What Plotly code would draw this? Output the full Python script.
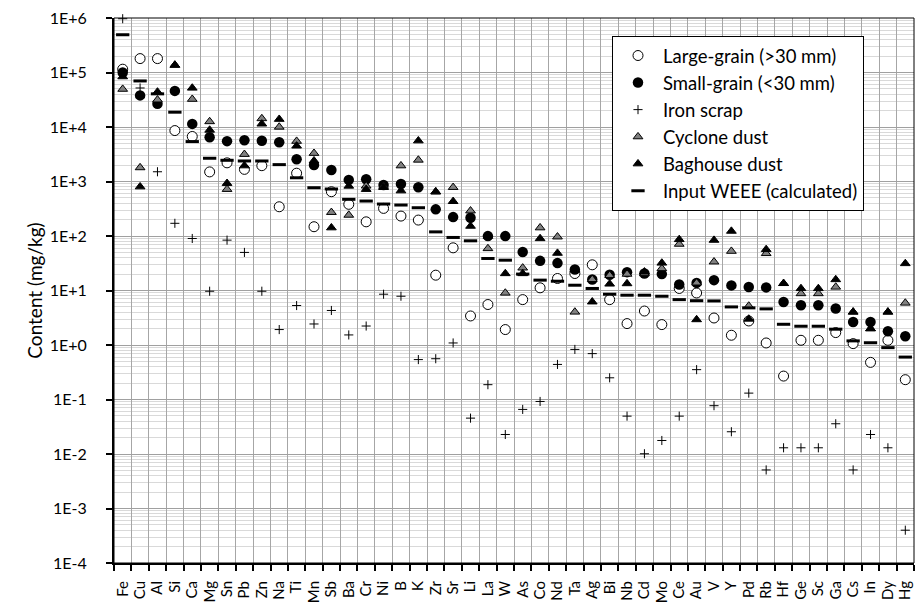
import plotly.graph_objects as go

# Element content of WEEE processing fractions (mg/kg)
elements = ["Fe", "Cu", "Al", "Si", "Ca", "Mg", "Sn", "Pb", "Zn", "Na", "Ti", "Mn",
            "Sb", "Ba", "Cr", "Ni", "B", "K", "Zr", "Sr", "Li", "La", "W", "As",
            "Co", "Nd", "Ta", "Ag", "Bi", "Nb", "Cd", "Mo", "Ce", "Au", "V", "Y",
            "Pd", "Rb", "Hf", "Ge", "Sc", "Ga", "Cs", "In", "Dy", "Hg"]

large_grain = [1.15e5, 1.8e5, 1.8e5, 8.6e3, 6.7e3, 1.5e3, 2.2e3, 1.67e3, 1.95e3, 344, 1.42e3, 148,
               650, 381, 182, 321, 232, 196, 19.1, 60.7, 3.41, 5.53, 1.92, 6.8,
               11.2, 16.6, 20.5, 29.6, 6.8, 2.47, 4.2, 2.37, 10.9, 9.0, 3.13, 1.51,
               2.76, 1.09, 0.269, 1.22, 1.22, 1.69, 1.06, 0.48, 1.22, 0.231]

small_grain = [1.0e5, 3.8e4, 2.66e4, 4.6e4, 1.14e4, 6.5e3, 5.5e3, 5.7e3, 5.6e3, 5.26e3, 2.56e3, 2.0e3,
               1.63e3, 1.07e3, 1.1e3, 862, 900, 782, 308, 222, 216, 99.6, 99.6, 51,
               35, 31.8, 24.3, 15.9, 19.4, 21.7, 20.5, 20, 12.9, 13.8, 15.5, 12.4,
               11.6, 11.4, 6.17, 5.37, 5.37, 4.67, 2.65, 2.65, 1.79, 1.45]

iron_scrap = [9.7e5, 5.2e4, 1.51e3, 171, 90, 9.7, 84, 50, 9.7, 1.92, 5.3, 2.43,
              4.3, 1.53, 2.23, 8.55, 7.85, 0.54, 0.56, 1.09, 0.0455, 0.187, 0.0228, 0.0658,
              0.092, 0.44, 0.83, 0.695, 0.25, 0.0495, 0.0101, 0.0177, 0.0495, 0.353, 0.077, 0.0256,
              0.131, 0.0051, 0.013, 0.013, 0.013, 0.0359, 0.0051, 0.0228, 0.013, 0.0004]

cyclone_dust = [4.95e4, 1.8e3, 3.15e4, 1.37e5, 3.24e4, 1.26e4, 720, 3.16e3, 1.43e4, 1.0e4, 5.5e3, 3.3e3,
                272, 242, 830, 820, 1.95e3, 2.48e3, 649, 782, 290, 59, 9.0, 26,
                142, 96.6, 4.04, 16, 19, 20, 20.5, 25.3, 71, 13.8, 33.6, 52.7,
                5.2, 47.9, 13.5, 8.8, 8.8, 11.6, 4.04, 2.0, 4.04, 5.9]

baghouse_dust = [8.4e4, 802, 4.4e4, 1.37e5, 5.2e4, 8.8e3, 927, 1.95e3, 1.14e4, 1.39e4, 4.5e3, 2.4e3,
                 142, 826, 720, 780, 678, 5.6e3, 649, 432, 152, 99.6, 20.5, 20.5,
                 90, 48.5, 24.3, 6.2, 13.2, 13.4, 22, 32, 86.5, 2.93, 84, 123,
                 3.0, 56.7, 13.5, 10.9, 10.9, 15.9, 4.04, 2.0, 4.04, 31.3]

input_weee = [4.93e5, 7.0e4, 4.06e4, 1.87e4, 5.4e3, 2.67e3, 2.45e3, 2.38e3, 2.38e3, 2.04e3, 1.17e3, 769,
              728, 471, 438, 386, 370, 330, 119, 94, 81.6, 38.7, 36, 20,
              15.5, 14.8, 12.5, 10.9, 8.55, 8.2, 8.2, 7.85, 6.8, 6.5, 6.44, 5.0,
              4.8, 4.6, 2.4, 2.21, 2.21, 1.95, 1.19, 1.1, 0.895, 0.6]

y_tick_values = [1e-4, 1e-3, 1e-2, 1e-1, 1e0, 1e1, 1e2, 1e3, 1e4, 1e5, 1e6]
y_tick_labels = ["1E-4", "1E-3", "1E-2", "1E-1", "1E+0", "1E+1", "1E+2",
                 "1E+3", "1E+4", "1E+5", "1E+6"]

series = [
    ("Large-grain (>30 mm)", large_grain,
     dict(symbol="circle", size=10, color="white", line=dict(color="black", width=1))),
    ("Small-grain (<30 mm)", small_grain,
     dict(symbol="circle", size=10.5, color="black", line=dict(color="black", width=0))),
    ("Iron scrap", iron_scrap,
     dict(symbol="cross-thin", size=6.5, color="black", line=dict(color="black", width=1))),
    ("Cyclone dust", cyclone_dust,
     dict(symbol="triangle-up", size=8.5, color="#808080", line=dict(color="black", width=1))),
    ("Baghouse dust", baghouse_dust,
     dict(symbol="triangle-up", size=8.5, color="black", line=dict(color="black", width=1))),
    ("Input WEEE (calculated)", input_weee,
     dict(symbol="line-ew", size=9.5, color="black", line=dict(color="black", width=3))),
]

fig = go.Figure()
for name, values, marker in series:
    fig.add_trace(go.Scatter(x=elements, y=values, mode="markers", name=name,
                             marker=marker, cliponaxis=False))

font_family = "Lato, 'Open Sans', sans-serif"

fig.update_layout(
    width=918, height=607,
    margin=dict(l=114, r=4, t=18, b=44),
    plot_bgcolor="white", paper_bgcolor="white",
    font=dict(family=font_family, color="black", size=15),
    legend=dict(x=0.6225, y=0.967, xanchor="left", yanchor="top",
                bgcolor="white", bordercolor="black", borderwidth=1,
                font=dict(size=18.5), itemwidth=40),
    xaxis=dict(
        type="category", range=[-0.5, len(elements) - 0.5],
        tickmode="array", tickvals=elements, ticktext=elements,
        tickson="boundaries", ticks="outside", ticklen=6, tickwidth=2, tickcolor="black",
        tickangle=-90, tickfont=dict(size=15), ticklabelstandoff=10,
        showgrid=True, gridcolor="#a6a6a6", gridwidth=1,
        showline=True, linecolor="black", linewidth=2, automargin=False,
    ),
    yaxis=dict(
        type="log", range=[-4, 6],
        tickvals=y_tick_values, ticktext=y_tick_labels,
        ticks="outside", ticklen=6, tickwidth=2, tickcolor="black",
        tickfont=dict(size=16), ticklabelstandoff=16,
        showgrid=True, gridcolor="#a0a0a0", gridwidth=1,
        minor=dict(dtick="D1", showgrid=True, gridcolor="#d9d9d9", gridwidth=1),
        showline=True, linecolor="black", linewidth=2, automargin=False,
        title=dict(text="Content (mg/kg)", font=dict(size=19), standoff=2),
        zeroline=False,
    ),
)

# thin frame around the plotting area
fig.add_shape(type="rect", xref="paper", yref="paper", x0=0, y0=0, x1=1, y1=1,
              line=dict(color="black", width=1), layer="above")

fig.write_html("out.html")
